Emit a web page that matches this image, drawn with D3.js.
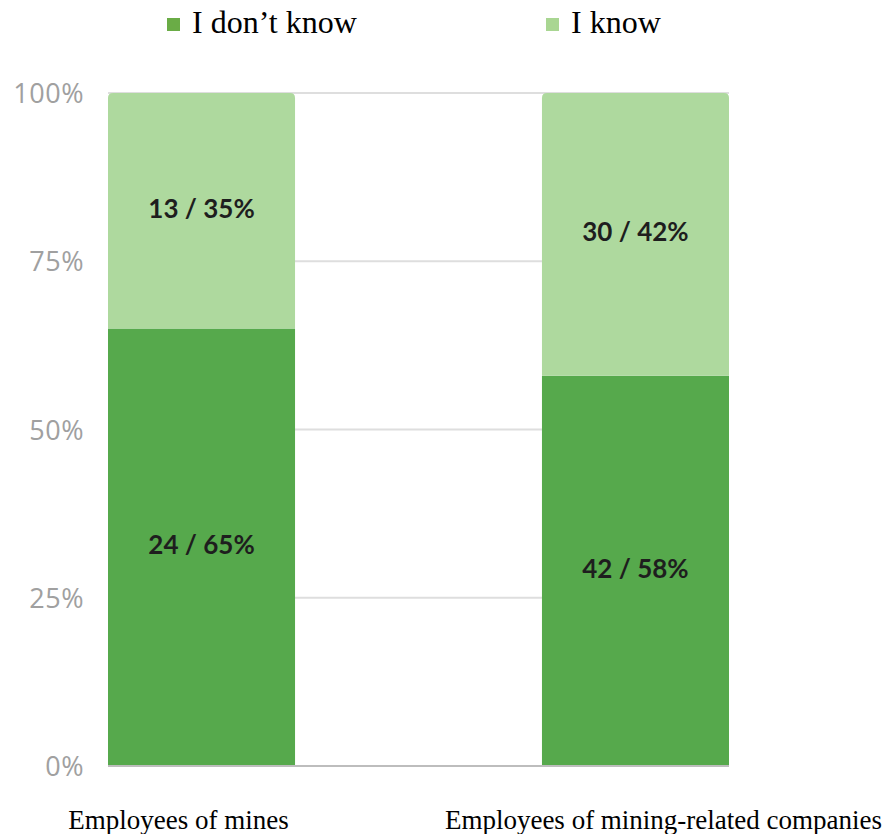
<!DOCTYPE html>
<html lang="en">
<head>
	<meta charset="utf-8">
	<title>Mining survey</title>
	<script src="https://d3js.org/d3.v7.min.js"></script>
	<style>
		body { margin: 0; background: #fff; }
	</style>
</head>
<body>
	<div id="chart"></div>
<script>
	// data
	var categories = ["Employees of mines", "Employees of mining-related companies"];
	var seriesNames = ["I don\u2019t know", "I know"];
	var dontKnowCount = [24, 42];
	var dontKnowPct = [65, 58];
	var knowCount = [13, 30];
	var knowPct = [35, 42];
	var tickValues = [0, 25, 50, 75, 100];

	var w = 884, h = 834;
	var colors = ["#56a94c", "#aed99e"];
	var legendColors = ["#6aac46", "#a9d692"];

	var svg = d3.select("#chart").append("svg")
		.attr("width", w)
		.attr("height", h);

	var x = d3.scaleBand()
		.domain(categories)
		.range([108, 729])
		.paddingInner(0.569)
		.paddingOuter(0);

	var y = d3.scaleLinear()
		.domain([0, 100])
		.range([766, 93]);

	// gridlines
	svg.selectAll("line.grid")
		.data(tickValues.filter(function(d) { return d > 0; }))
		.enter()
		.append("line")
		.attr("class", "grid")
		.attr("x1", 108)
		.attr("x2", 729)
		.attr("y1", function(d) { return y(d); })
		.attr("y2", function(d) { return y(d); })
		.attr("stroke", "#dedede")
		.attr("stroke-width", 2);

	// y tick labels
	svg.selectAll("text.ytick")
		.data(tickValues)
		.enter()
		.append("text")
		.attr("class", "ytick")
		.attr("x", 84)
		.attr("y", function(d) { return y(d) + 10; })
		.attr("text-anchor", "end")
		.attr("font-family", "'Open Sans', sans-serif")
		.attr("font-size", "27px")
		.attr("letter-spacing", "0.5px")
		.attr("fill", "#a0a0a0")
		.text(function(d) { return d + "%"; });

	// stacked rows
	var rows = categories.map(function(c, i) {
		return {
			cat: c,
			segs: [
				{ y0: 0, y1: dontKnowPct[i], n: dontKnowCount[i], p: dontKnowPct[i], k: 0 },
				{ y0: dontKnowPct[i], y1: dontKnowPct[i] + knowPct[i], n: knowCount[i], p: knowPct[i], k: 1 }
			]
		};
	});

	var g = svg.selectAll("g.bar")
		.data(rows)
		.enter()
		.append("g")
		.attr("class", "bar")
		.attr("transform", function(d) { return "translate(" + x(d.cat) + ",0)"; });

	g.selectAll("path")
		.data(function(d) { return d.segs; })
		.enter()
		.append("path")
		.attr("fill", function(d) { return colors[d.k]; })
		.attr("d", function(d) {
			var bw = x.bandwidth();
			var top = y(d.y1), bot = y(d.y0);
			if (d.k === 1) {
				var r = 5;
				return "M0," + bot + "V" + (top + r) + "Q0," + top + " " + r + "," + top +
					"H" + (bw - r) + "Q" + bw + "," + top + " " + bw + "," + (top + r) +
					"V" + bot + "Z";
			}
			return "M0," + bot + "V" + top + "H" + bw + "V" + bot + "Z";
		});

	g.selectAll("text")
		.data(function(d) { return d.segs; })
		.enter()
		.append("text")
		.attr("x", x.bandwidth() / 2)
		.attr("y", function(d) { return (y(d.y0) + y(d.y1)) / 2 + 7; })
		.attr("text-anchor", "middle")
		.attr("font-family", "Lato, sans-serif")
		.attr("font-weight", "bold")
		.attr("font-size", "26px")
		.attr("fill", "#1e1e1e")
		.text(function(d) { return d.n + " / " + d.p + "%"; });

	// baseline
	svg.append("line")
		.attr("x1", 108)
		.attr("x2", 729)
		.attr("y1", y(0))
		.attr("y2", y(0))
		.attr("stroke", "#bdbdbd")
		.attr("stroke-width", 2);

	// category labels
	var catOffset = [-23, 28];
	svg.selectAll("text.cat")
		.data(categories)
		.enter()
		.append("text")
		.attr("class", "cat")
		.attr("x", function(d, i) { return x(d) + x.bandwidth() / 2 + catOffset[i]; })
		.attr("y", 829)
		.attr("text-anchor", "middle")
		.attr("font-family", "'Liberation Serif', 'Times New Roman', serif")
		.attr("font-size", "27px")
		.attr("fill", "#000")
		.text(function(d) { return d; });

	// legend
	var legendX = [167, 546];
	var lg = svg.selectAll("g.legend")
		.data(seriesNames)
		.enter()
		.append("g")
		.attr("class", "legend")
		.attr("transform", function(d, i) { return "translate(" + legendX[i] + ",0)"; });

	lg.append("rect")
		.attr("x", 0)
		.attr("y", 18)
		.attr("width", 13)
		.attr("height", 13)
		.attr("fill", function(d, i) { return legendColors[i]; });

	lg.append("text")
		.attr("x", 25)
		.attr("y", 33)
		.attr("font-family", "'Liberation Serif', 'Times New Roman', serif")
		.attr("font-size", "32px")
		.attr("fill", "#000")
		.text(function(d) { return d; });
</script>
</body>
</html>
